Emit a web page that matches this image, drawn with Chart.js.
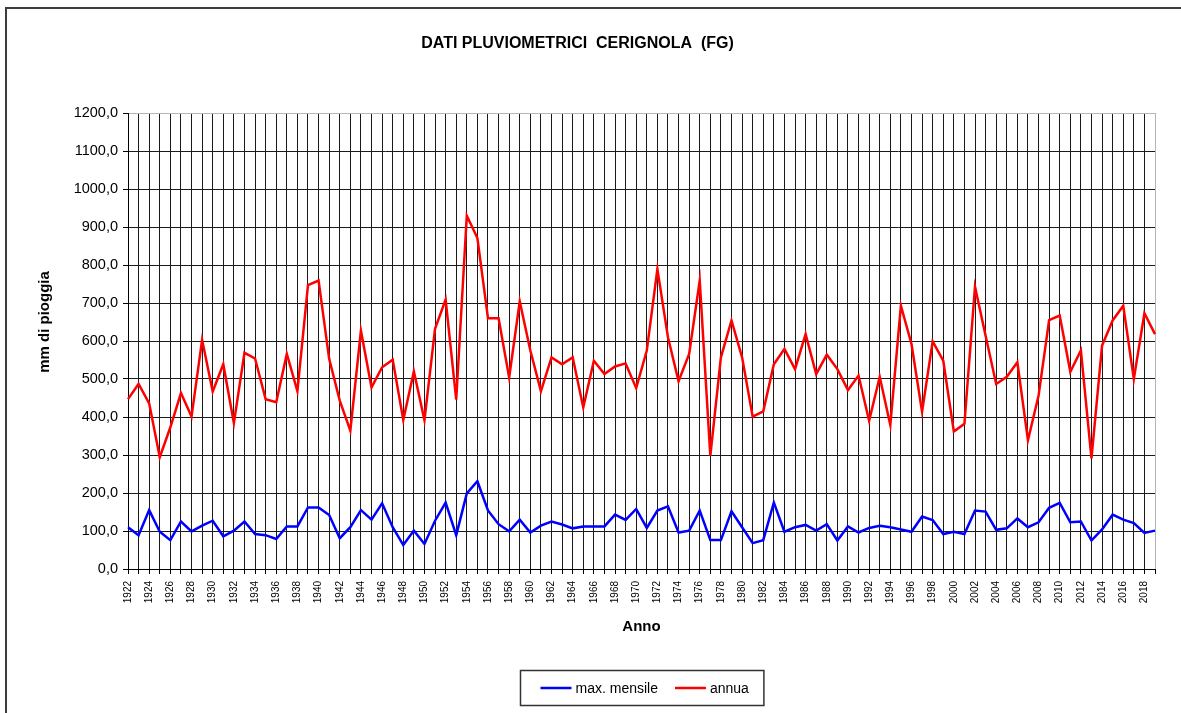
<!DOCTYPE html>
<html lang="it">
<head>
<meta charset="utf-8">
<title>Dati pluviometrici Cerignola (FG)</title>
<script src="https://cdn.jsdelivr.net/npm/chart.js@4.4.1/dist/chart.umd.min.js"></script>
<style>
  html, body { margin: 0; padding: 0; background: #fff; overflow: hidden; }
  #cornice {
    position: absolute; left: 5px; top: 7px; width: 1300px; height: 800px;
    border: 2px solid #3c3c3c;
  }
  #grafico { position: absolute; left: 0; top: 0; }
</style>
</head>
<body>
<div id="cornice"></div>
<canvas id="grafico" width="1181" height="713"></canvas>
<script>
const anni = [
  1922, 1923, 1924, 1925, 1926, 1927, 1928, 1929, 1930, 1931,
  1932, 1933, 1934, 1935, 1936, 1937, 1938, 1939, 1940, 1941,
  1942, 1943, 1944, 1945, 1946, 1947, 1948, 1949, 1950, 1951,
  1952, 1953, 1954, 1955, 1956, 1957, 1958, 1959, 1960, 1961,
  1962, 1963, 1964, 1965, 1966, 1967, 1968, 1969, 1970, 1971,
  1972, 1973, 1974, 1975, 1976, 1977, 1978, 1979, 1980, 1981,
  1982, 1983, 1984, 1985, 1986, 1987, 1988, 1989, 1990, 1991,
  1992, 1993, 1994, 1995, 1996, 1997, 1998, 1999, 2000, 2001,
  2002, 2003, 2004, 2005, 2006, 2007, 2008, 2009, 2010, 2011,
  2012, 2013, 2014, 2015, 2016, 2017, 2018, 2019
];

// pioggia massima mensile (mm)
const maxMensile = [
  110, 89, 155, 98, 76, 125, 99, 114, 127, 86,
  101, 125, 92, 89, 79, 112, 112, 162, 162, 142,
  81, 110, 155, 130, 173, 110, 63, 101, 66, 127,
  175, 89, 199, 231, 154, 118, 99, 130, 96, 114,
  125, 117, 107, 112, 112, 112, 143, 129, 158, 108,
  154, 165, 96, 101, 154, 76, 76, 152, 110, 68,
  76, 175, 98, 110, 116, 101, 118, 75, 112, 96,
  108, 114, 110, 104, 98, 138, 129, 92, 98, 92,
  154, 151, 103, 107, 133, 110, 123, 161, 174, 123,
  125, 75, 104, 143, 130, 121, 95, 101
];

// pioggia totale annua (mm)
const annua = [
  447, 487, 436, 294, 373, 463, 401, 603, 467, 539,
  384, 569, 554, 447, 439, 566, 468, 747, 759, 553,
  443, 364, 627, 478, 531, 551, 392, 520, 392, 632,
  709, 446, 930, 871, 660, 660, 504, 704, 575, 468,
  557, 539, 557, 425, 548, 513, 533, 541, 476, 575,
  789, 610, 494, 566, 759, 298, 557, 654, 557, 401,
  415, 539, 579, 526, 618, 513, 564, 526, 471, 509,
  390, 506, 379, 693, 592, 414, 599, 548, 362, 382,
  743, 614, 487, 506, 544, 339, 456, 655, 667, 519,
  575, 291, 588, 654, 693, 500, 673, 618
];

const FONT = '"Liberation Sans", Arial, Helvetica, sans-serif';
Chart.defaults.font.family = FONT;
Chart.defaults.color = "#000";

const GRIGLIA = "#1a1a1a";
const BORDO_AREA = "#b4b4b4";
const TITOLO_Y = "mm di pioggia";

// titolo dell'asse y (un po' sopra il centro) e legenda in riquadro
const decorazioni = {
  id: "decorazioni",
  afterDraw(chart) {
    const c = chart.ctx;
    const area = chart.chartArea;
    c.save();

    c.font = "bold 15px " + FONT;
    c.fillStyle = "#000";
    c.textAlign = "center";
    c.textBaseline = "middle";
    c.translate(45, (area.top + area.bottom) / 2 - 19);
    c.rotate(-Math.PI / 2);
    c.fillText(TITOLO_Y, 0, 0);
    c.setTransform(1, 0, 0, 1, 0, 0);

    c.font = "14px " + FONT;
    const voci = chart.data.datasets.map((ds) => ({
      testo: ds.label,
      colore: ds.borderColor,
      w: c.measureText(ds.label).width,
    }));
    const linea = 31, spazio = 4, tra = 17;
    let contenuto = 0;
    voci.forEach((v, i) => {
      contenuto += linea + spazio + v.w + (i ? tra : 0);
    });
    const boxW = contenuto + 35;
    const boxH = 35;
    const x0 = Math.round((area.left + area.right) / 2 - boxW / 2) + 0.5;
    const y0 = chart.height - 43 + 0.5;

    c.fillStyle = "#fff";
    c.fillRect(x0, y0, boxW, boxH);
    c.strokeStyle = "#333";
    c.lineWidth = 1.5;
    c.strokeRect(x0, y0, boxW, boxH);

    let x = x0 + 20;
    const ym = y0 + boxH / 2;
    c.textBaseline = "middle";
    c.textAlign = "left";
    voci.forEach((v) => {
      c.strokeStyle = v.colore;
      c.lineWidth = 2.5;
      c.beginPath();
      c.moveTo(x, ym);
      c.lineTo(x + linea, ym);
      c.stroke();
      x += linea + spazio;
      c.fillStyle = "#000";
      c.fillText(v.testo, x, ym + 1);
      x += v.w + tra;
    });
    c.restore();
  },
};

const ctx = document.getElementById("grafico").getContext("2d");
const grafico = new Chart(ctx, {
  type: "line",
  data: {
    labels: anni,
    datasets: [
      {
        label: "max. mensile",
        data: maxMensile,
        borderColor: "#0000ff",
        backgroundColor: "#0000ff",
        borderWidth: 2.5,
        pointRadius: 0,
        tension: 0,
        fill: false,
      },
      {
        label: "annua",
        data: annua,
        borderColor: "#ff0000",
        backgroundColor: "#ff0000",
        borderWidth: 2.5,
        pointRadius: 0,
        tension: 0,
        fill: false,
      },
    ],
  },
  options: {
    responsive: false,
    animation: false,
    events: [],
    layout: { padding: { left: 0, right: 26, top: 0, bottom: 64 } },
    plugins: {
      legend: { display: false },
      tooltip: { enabled: false },
      title: {
        display: true,
        text: "DATI PLUVIOMETRICI  CERIGNOLA  (FG)",
        color: "#000",
        font: { size: 16, weight: "bold" },
        padding: { top: 34.4, bottom: 59.4 },
      },
    },
    scales: {
      x: {
        grid: {
          color: (c) => (c.index === anni.length - 1 ? BORDO_AREA : GRIGLIA),
          tickColor: "#000",
          tickLength: 5,
          lineWidth: 1,
        },
        border: { color: "#000", width: 1 },
        ticks: {
          autoSkip: false,
          minRotation: 90,
          maxRotation: 90,
          padding: 7,
          color: "#000",
          font: { size: 10 },
          callback: (v, i) => (anni[i] % 2 === 0 ? String(anni[i]) : ""),
        },
        title: {
          display: true,
          text: "Anno",
          color: "#000",
          font: { size: 15, weight: "bold" },
          padding: { top: 0, bottom: 13 },
        },
        afterFit: (s) => {
          s.height = 80;
        },
      },
      y: {
        min: 0,
        max: 1200,
        grid: {
          color: (c) => (c.tick && c.tick.value === 1200 ? BORDO_AREA : GRIGLIA),
          tickColor: "#000",
          tickLength: 5,
          lineWidth: 1,
        },
        border: { color: "#000", width: 1 },
        ticks: {
          stepSize: 100,
          padding: 5,
          color: "#000",
          font: { size: 14.5 },
          callback: (v) => v.toFixed(1).replace(".", ","),
        },
        afterFit: (s) => {
          s.width = 128;
        },
      },
    },
  },
  plugins: [decorazioni],
});
</script>
</body>
</html>
